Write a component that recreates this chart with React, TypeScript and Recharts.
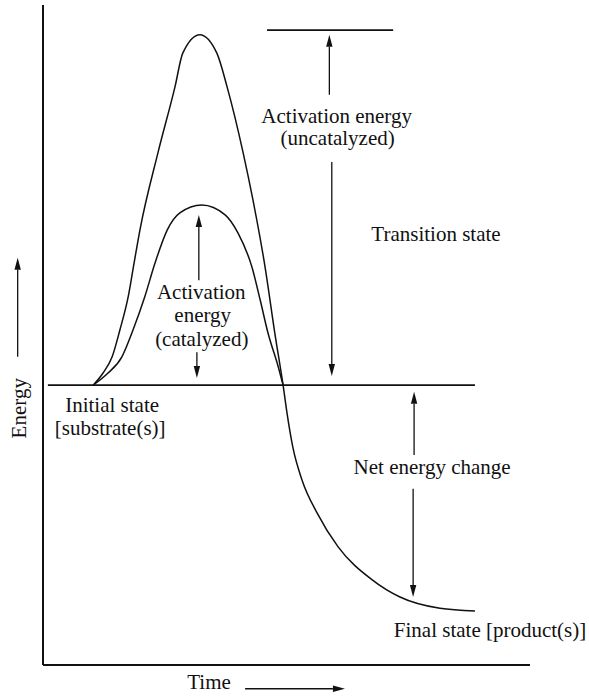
import React from 'react';
import { LineChart, Line, XAxis, YAxis, ReferenceLine, ReferenceDot } from 'recharts';

// Reaction coordinate (time, arbitrary units 0-100) and energy (arbitrary units 0-100)
const uncatalyzedTime = [10.3, 12.3, 14.2, 15.8, 17.5, 18.7, 19.9, 23.6, 27.1, 28.7, 32.2, 35.7, 37.8, 41.1, 43.1, 45.6, 47.6, 49.3, 50.1, 51.3, 53.2, 56.3, 60.6, 67.6, 73.3, 81.5, 88.7];
const uncatalyzedEnergy = [42.4, 44.2, 46.7, 50.8, 55.8, 60.9, 65.9, 77.6, 87.6, 92.7, 95.5, 92.7, 87.6, 77.6, 70.5, 60.3, 50.3, 42.4, 38.2, 33.0, 28.0, 23.0, 17.9, 12.9, 10.3, 8.6, 8.2];

const catalyzedTime = [10.3, 13.3, 16.2, 18.5, 20.9, 23.0, 25.5, 28.1, 32.6, 37.4, 40.0, 42.9, 44.6, 46.2, 48.3, 49.3];
const catalyzedEnergy = [42.4, 44.2, 46.7, 50.8, 55.8, 60.9, 65.9, 68.5, 69.7, 68.2, 65.5, 60.3, 55.3, 50.3, 45.2, 42.4];

// Energy levels
const initialLevel = { energy: 42.4, from: 1.0, to: 88.7 };
const transitionLevel = { energy: 96.2, from: 46.0, to: 71.9 };

// Arrows: [time1, energy1] -> [time2, energy2] (tip at the second point)
const arrows = [
  { a: [58.8, 86.4], b: [58.8, 95.5] },
  { a: [59.3, 76.2], b: [59.3, 43.8] },
  { a: [32.0, 58.3], b: [32.0, 68.2] },
  { a: [31.6, 47.4], b: [31.6, 43.5] },
  { a: [76.2, 31.8], b: [76.2, 41.4] },
  { a: [76.0, 26.7], b: [76.0, 10.3] },
  { a: [-5.2, 46.7], b: [-5.2, 61.7] },
  { a: [41.5, -3.6], b: [62.0, -3.6] },
];

// Text annotations (anchor at baseline centre)
const annotations = [
  { t: 60.3, e: 82.1, text: 'Activation energy' },
  { t: 60.5, e: 78.8, text: '(uncatalyzed)' },
  { t: 80.7, e: 64.2, text: 'Transition state' },
  { t: 32.5, e: 55.5, text: 'Activation' },
  { t: 32.8, e: 52.0, text: 'energy' },
  { t: 32.6, e: 48.3, text: '(catalyzed)' },
  { t: 14.2, e: 38.3, text: 'Initial state' },
  { t: 13.8, e: 34.8, text: '[substrate(s)]' },
  { t: 79.9, e: 28.9, text: 'Net energy change' },
  { t: 91.8, e: 4.2, text: 'Final state [product(s)]' },
  { t: 34.1, e: -3.6, text: 'Time' },
];
const energyLabel = { t: -3.5, e: 38.9, text: 'Energy' };

const uncatalyzed = uncatalyzedTime.map((t, i) => ({ t, e: uncatalyzedEnergy[i] }));
const catalyzed = catalyzedTime.map((t, i) => ({ t, e: catalyzedEnergy[i] }));

const FONT = "'Liberation Serif', 'Times New Roman', serif";
const INK = '#111';

const arrowShape = (props: any) => {
  const { x1, y1, x2, y2 } = props;
  const dx = x2 - x1;
  const dy = y2 - y1;
  const len = Math.sqrt(dx * dx + dy * dy) || 1;
  const ux = dx / len;
  const uy = dy / len;
  const hl = 12;
  const hw = 3.2;
  const bx = x2 - ux * hl;
  const by = y2 - uy * hl;
  const px = -uy * hw;
  const py = ux * hw;
  return (
    <g>
      <line x1={x1} y1={y1} x2={bx} y2={by} stroke={INK} strokeWidth={1.3} />
      <polygon points={`${x2},${y2} ${bx + px},${by + py} ${bx - px},${by - py}`} fill={INK} />
    </g>
  );
};

const textShape = (text: string, rotate?: boolean) => (props: any) => (
  <text
    x={props.cx}
    y={props.cy}
    textAnchor="middle"
    fontFamily={FONT}
    fontSize={21}
    fill={INK}
    transform={rotate ? `rotate(-90 ${props.cx} ${props.cy})` : undefined}
  >
    {text}
  </text>
);

export default function App() {
  return (
    <div style={{ position: 'absolute', left: 0, top: 0, background: '#fff' }}>
      <LineChart width={589} height={696} margin={{ top: 5, right: 59, bottom: 30, left: 42 }}>
        <XAxis
          type="number"
          dataKey="t"
          domain={[0, 100]}
          allowDataOverflow
          height={1}
          tick={false}
          tickLine={false}
          axisLine={{ stroke: INK, strokeWidth: 2 }}
        />
        <YAxis
          type="number"
          dataKey="e"
          domain={[0, 100]}
          allowDataOverflow
          width={1}
          tick={false}
          tickLine={false}
          axisLine={{ stroke: INK, strokeWidth: 2 }}
        />
        <ReferenceLine
          segment={[{ x: initialLevel.from, y: initialLevel.energy }, { x: initialLevel.to, y: initialLevel.energy }]}
          stroke={INK}
          strokeWidth={1.6}
          ifOverflow="visible"
        />
        <ReferenceLine
          segment={[{ x: transitionLevel.from, y: transitionLevel.energy }, { x: transitionLevel.to, y: transitionLevel.energy }]}
          stroke={INK}
          strokeWidth={1.6}
          ifOverflow="visible"
        />
        <Line
          data={uncatalyzed}
          dataKey="e"
          type="monotone"
          stroke={INK}
          strokeWidth={1.5}
          dot={false}
          activeDot={false}
          isAnimationActive={false}
        />
        <Line
          data={catalyzed}
          dataKey="e"
          type="monotone"
          stroke={INK}
          strokeWidth={1.5}
          dot={false}
          activeDot={false}
          isAnimationActive={false}
        />
        {arrows.map((ar, i) => (
          <ReferenceLine
            key={`ar${i}`}
            segment={[{ x: ar.a[0], y: ar.a[1] }, { x: ar.b[0], y: ar.b[1] }]}
            ifOverflow="visible"
            shape={arrowShape}
          />
        ))}
        {annotations.map((an, i) => (
          <ReferenceDot
            key={`an${i}`}
            x={an.t}
            y={an.e}
            r={0}
            ifOverflow="visible"
            shape={textShape(an.text)}
          />
        ))}
        <ReferenceDot
          x={energyLabel.t}
          y={energyLabel.e}
          r={0}
          ifOverflow="visible"
          shape={textShape(energyLabel.text, true)}
        />
      </LineChart>
    </div>
  );
}
